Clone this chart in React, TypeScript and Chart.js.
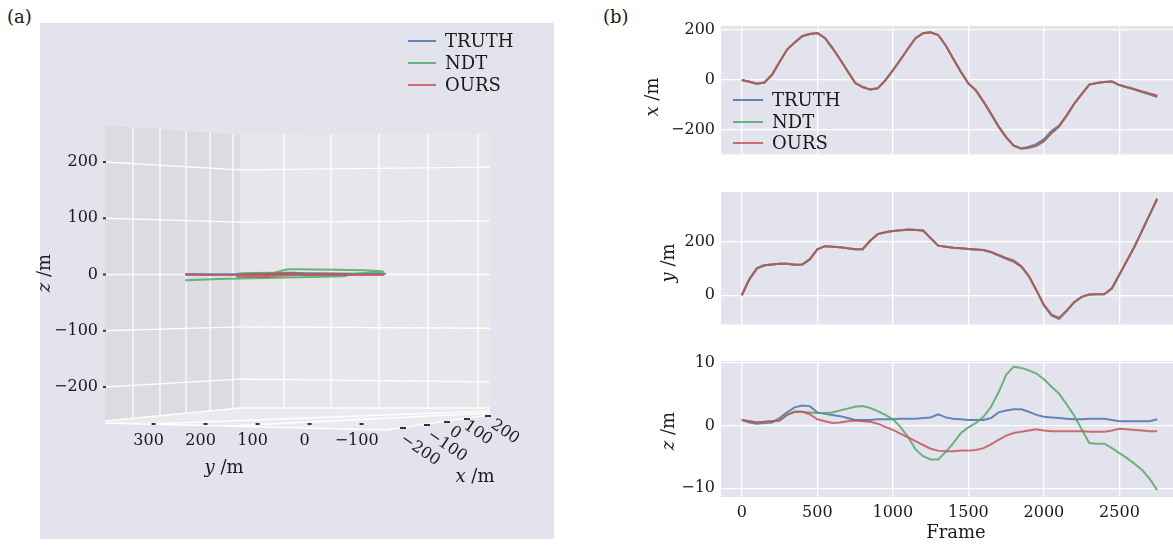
import React, { useEffect, useRef } from 'react';
import { Chart, registerables } from 'chart.js';

Chart.register(...registerables);

// ---------------- data ----------------
const FRAMES = [0, 50, 100, 150, 200, 250, 300, 350, 400, 450, 500, 550, 600, 650, 700, 750, 800, 850, 900, 950,
  1000, 1050, 1100, 1150, 1200, 1250, 1300, 1350, 1400, 1450, 1500, 1550, 1600, 1650, 1700, 1750, 1800, 1850, 1900, 1950,
  2000, 2050, 2100, 2150, 2200, 2250, 2300, 2350, 2400, 2450, 2500, 2550, 2600, 2650, 2700, 2750];

const SERIES_NAMES = ['TRUTH', 'NDT', 'OURS'];

const X_TRUTH = [0, -7, -15, -10, 21, 72, 122, 150, 175, 184,
  188, 168, 128, 83, 36, -11, -28, -38, -33, -1,
  39, 81, 125, 167, 187, 191, 180, 138, 85, 33,
  -14, -41, -86, -135, -186, -228, -262, -273, -266, -256,
  -236, -204, -182, -142, -95, -56, -18, -12, -8, -6,
  -20, -29, -38, -48, -58, -68];
const X_NDT = [0, -7, -15, -10, 21, 72, 122, 150, 175, 184,
  188, 168, 128, 83, 36, -11, -28, -38, -33, -1,
  39, 81, 125, 167, 187, 191, 180, 138, 85, 33,
  -14, -41, -86, -135, -186, -228, -262, -274, -270, -263,
  -244, -212, -186, -142, -95, -56, -18, -12, -8, -6,
  -20, -29, -37, -46, -55, -63];
const X_OURS = [0, -7, -15, -10, 21, 72, 122, 150, 175, 184,
  188, 168, 128, 83, 36, -11, -28, -38, -33, -1,
  39, 81, 125, 167, 187, 191, 180, 138, 85, 33,
  -14, -41, -86, -135, -186, -228, -262, -273, -270, -263,
  -244, -212, -186, -142, -95, -56, -18, -12, -8, -6,
  -20, -29, -37, -46, -54, -63];

const Y_TRUTH = [0, 59, 100, 111, 114, 117, 117, 113, 114, 133,
  170, 182, 180, 178, 174, 171, 171, 202, 227, 234,
  238, 241, 244, 243, 240, 212, 184, 180, 176, 174,
  172, 170, 167, 159, 147, 135, 124, 106, 71, 19,
  -38, -75, -88, -59, -26, -6, 3, 4, 4, 26,
  77, 129, 181, 240, 299, 358];
const Y_NDT = [0, 59, 100, 111, 114, 117, 117, 113, 114, 133,
  170, 182, 180, 178, 174, 171, 171, 202, 227, 234,
  238, 241, 243, 242, 240, 212, 184, 180, 176, 174,
  172, 170, 168, 161, 150, 138, 128, 108, 71, 19,
  -36, -72, -84, -57, -26, -6, 3, 4, 4, 26,
  77, 129, 181, 240, 299, 358];
const Y_OURS = [0, 59, 100, 111, 114, 117, 117, 113, 114, 133,
  170, 182, 180, 178, 174, 171, 171, 202, 227, 234,
  238, 241, 243, 242, 240, 212, 184, 180, 176, 174,
  172, 170, 168, 161, 150, 138, 128, 108, 71, 19,
  -36, -72, -84, -57, -26, -6, 3, 4, 4, 26,
  77, 129, 181, 240, 299, 358];

const Z_TRUTH = [0.9, 0.5, 0.3, 0.4, 0.5, 1.2, 2.1, 2.9, 3.2, 3.1,
  2.1, 1.9, 1.7, 1.5, 1.2, 0.9, 0.9, 0.9, 1.0, 1.0,
  1.0, 1.1, 1.1, 1.1, 1.2, 1.3, 1.8, 1.3, 1.1, 1.0,
  0.9, 0.9, 0.9, 1.2, 2.1, 2.4, 2.6, 2.6, 2.2, 1.7,
  1.4, 1.3, 1.2, 1.1, 1.0, 1.0, 1.1, 1.1, 1.1, 0.9,
  0.7, 0.7, 0.7, 0.7, 0.7, 1.0];
const Z_NDT = [0.9, 0.7, 0.5, 0.6, 0.7, 0.8, 1.7, 2.2, 2.2, 2.1,
  2.0, 2.0, 2.1, 2.4, 2.7, 3.0, 3.1, 2.8, 2.3, 1.7,
  1.0, -0.2, -1.8, -3.8, -4.9, -5.4, -5.4, -4.2, -2.8, -1.2,
  -0.3, 0.4, 1.4, 3.0, 5.3, 8.1, 9.4, 9.2, 8.8, 8.3,
  7.4, 6.2, 5.1, 3.4, 1.6, -0.6, -2.8, -2.9, -2.9, -3.6,
  -4.4, -5.2, -6.1, -7.1, -8.5, -10.3];
const Z_OURS = [0.9, 0.7, 0.5, 0.6, 0.7, 0.8, 1.7, 2.2, 2.2, 1.8,
  1.0, 0.7, 0.4, 0.5, 0.7, 0.8, 0.7, 0.6, 0.3, -0.2,
  -0.7, -1.3, -1.9, -2.5, -3.1, -3.7, -4.0, -4.1, -4.1, -4.0,
  -4.0, -3.9, -3.6, -3.0, -2.3, -1.6, -1.2, -1.0, -0.8, -0.6,
  -0.8, -0.9, -0.9, -0.9, -0.9, -0.9, -1.0, -1.0, -1.0, -0.8,
  -0.5, -0.6, -0.7, -0.8, -0.9, -0.9];

const FRAME_TICKS = [0, 500, 1000, 1500, 2000, 2500];
const X_TICKS = [-200, 0, 200];
const Y_TICKS = [0, 200];
const Z_TICKS = [-10, 0, 10];
const A_Z_TICKS = [-200, -100, 0, 100, 200];
const A_Y_TICKS = [300, 200, 100, 0, -100];
const A_X_TICKS = [-200, -100, 0, 100, 200];

// ---------------- styles ----------------
const FONT = "'DejaVu Serif', 'Liberation Serif', serif";
const TEXT = '#1a1a1a';
const SERIES_COLORS = ['rgba(76,114,176,0.85)', 'rgba(85,168,104,0.85)', 'rgba(196,78,82,0.8)'];
const PLOT_BG = '#e3e3ee';
const PANEL_BG = '#e3e3ee';
const LEFT_PANE = '#dbdbe0';
const BACK_PANE = '#e7e7eb';
const FLOOR = '#ebebef';

Chart.defaults.font.family = FONT;
Chart.defaults.color = TEXT;

type Box = { left: number; top: number; width: number; height: number };

const fmt = (v: number) => (v < 0 ? '\u2212' + Math.abs(v) : String(v));

function mathLabel(ctx: CanvasRenderingContext2D, ital: string, rest: string, x: number, y: number, rot: number, size = 18) {
  ctx.save();
  ctx.translate(x, y);
  ctx.rotate(rot);
  const fi = `italic ${size}px ${FONT}`;
  const fu = `${size}px ${FONT}`;
  ctx.font = fi;
  const w1 = ctx.measureText(ital).width;
  ctx.font = fu;
  const w2 = ctx.measureText(rest).width;
  const start = -(w1 + w2) / 2;
  ctx.textBaseline = 'middle';
  ctx.textAlign = 'left';
  ctx.fillStyle = TEXT;
  ctx.font = fi;
  ctx.fillText(ital, start, 0);
  ctx.font = fu;
  ctx.fillText(rest, start + w1, 0);
  ctx.restore();
}

function drawLegend(ctx: CanvasRenderingContext2D, x0: number, x1: number, tx: number, ys: number[]) {
  SERIES_NAMES.forEach((n, i) => {
    ctx.strokeStyle = SERIES_COLORS[i];
    ctx.lineWidth = 2;
    ctx.beginPath();
    ctx.moveTo(x0, ys[i]);
    ctx.lineTo(x1, ys[i]);
    ctx.stroke();
    ctx.fillStyle = TEXT;
    ctx.font = `18px ${FONT}`;
    ctx.textBaseline = 'middle';
    ctx.textAlign = 'left';
    ctx.fillText(n, tx, ys[i] + 1);
  });
}

function line(ctx: CanvasRenderingContext2D, x0: number, y0: number, x1: number, y1: number) {
  ctx.beginPath();
  ctx.moveTo(x0, y0);
  ctx.lineTo(x1, y1);
  ctx.stroke();
}

function poly(ctx: CanvasRenderingContext2D, pts: number[][], color: string) {
  ctx.fillStyle = color;
  ctx.beginPath();
  pts.forEach((p, i) => (i ? ctx.lineTo(p[0], p[1]) : ctx.moveTo(p[0], p[1])));
  ctx.closePath();
  ctx.fill();
}

function pagePlugin(id: string, box: Box, before: any, after: any) {
  return {
    id,
    beforeDraw(chart: any) {
      if (!before) return;
      const ctx = chart.ctx;
      ctx.save();
      ctx.translate(-box.left, -box.top);
      before(ctx, chart);
      ctx.restore();
    },
    afterDraw(chart: any) {
      if (!after) return;
      const ctx = chart.ctx;
      ctx.save();
      ctx.translate(-box.left, -box.top);
      after(ctx, chart);
      ctx.restore();
    },
  };
}

function lineSets(values: number[][], xs?: number[][], xAxisID = 'x', yAxisID = 'y') {
  return SERIES_NAMES.map((name, i) => ({
    label: name,
    data: values[i].map((v, k) => ({ x: xs ? xs[i][k] : FRAMES[k], y: v })),
    borderColor: SERIES_COLORS[i],
    backgroundColor: SERIES_COLORS[i],
    borderWidth: 2,
    pointRadius: 0,
    tension: 0,
    fill: false,
    order: 2 - i,
    xAxisID,
    yAxisID,
  }));
}

// ---------------- left (a) panel ----------------
const LEFT_BOX: Box = { left: 0, top: 0, width: 560, height: 549 };

function leftConfig(): any {
  const box = LEFT_BOX;
  const plugin = pagePlugin('leftDecor', box,
    (ctx: CanvasRenderingContext2D, chart: any) => {
      const z = chart.scales.z;
      ctx.fillStyle = PANEL_BG;
      ctx.fillRect(40, 23, 514, 516);
      poly(ctx, [[105, 125], [240, 135], [240, 408], [105, 421]], LEFT_PANE);
      poly(ctx, [[240, 134], [490, 133], [490, 408], [240, 408]], BACK_PANE);
      poly(ctx, [[105, 421], [240, 408], [490, 408], [490, 415], [385, 430], [105, 424]], FLOOR);
      ctx.strokeStyle = 'rgba(255,255,255,0.95)';
      ctx.lineWidth = 1.3;
      const zero = z.getPixelForValue(0);
      A_Z_TICKS.forEach((v) => {
        const yf = z.getPixelForValue(v);
        const yb = zero + (yf - zero) * 0.93;
        const yr = zero + (yf - zero) * 0.955;
        line(ctx, 105, yf, 240, yb);
        line(ctx, 240, yb, 490, yr);
      });
      [133, 160, 186, 210, 233].forEach((x) => {
        const t = 125 + ((x - 105) * 10) / 135;
        const b = 421 - ((x - 105) * 13) / 135;
        line(ctx, x, t, x, b);
      });
      [284, 331, 379, 428, 478].forEach((x) => line(ctx, x, 134, x, 408));
      line(ctx, 105, 423, 385, 430);
      line(ctx, 385, 430, 490, 415);
      line(ctx, 105, 421, 240, 408);
      line(ctx, 240, 408, 490, 408);
      line(ctx, 150, 424, 490, 411);
      line(ctx, 230, 426, 490, 413);
    },
    (ctx: CanvasRenderingContext2D, chart: any) => {
      const z = chart.scales.z;
      const xa = chart.scales.xa;
      ctx.fillStyle = '#333';
      A_Z_TICKS.forEach((v) => ctx.fillRect(103, z.getPixelForValue(v) - 1, 3, 2));
      A_Y_TICKS.forEach((v) => ctx.fillRect(xa.getPixelForValue(v) + 3, 423, 4, 2));
      const dash = [[403, 428], [427, 425], [447, 422], [467, 419], [488, 416]];
      dash.forEach((d) => ctx.fillRect(d[0] - 3, d[1] - 1, 6, 2));
      const lab = [[420, 450], [447, 446], [455, 433], [478, 433], [505, 432]];
      ctx.fillStyle = TEXT;
      ctx.font = `16px ${FONT}`;
      ctx.textAlign = 'center';
      ctx.textBaseline = 'middle';
      A_X_TICKS.forEach((v, i) => {
        ctx.save();
        ctx.translate(lab[i][0], lab[i][1]);
        ctx.rotate(0.6);
        ctx.fillText(fmt(v), 0, 0);
        ctx.restore();
      });
      mathLabel(ctx, 'z', ' /m', 45, 273, -Math.PI / 2);
      mathLabel(ctx, 'y', ' /m', 224, 468, 0);
      mathLabel(ctx, 'x', ' /m', 475, 477, 0);
      drawLegend(ctx, 408, 436, 445, [41, 63, 85]);
    });

  return {
    type: 'line',
    data: { datasets: lineSets([Z_TRUTH, Z_NDT, Z_OURS], [Y_TRUTH, Y_NDT, Y_OURS], 'xd', 'z') },
    options: {
      responsive: false,
      animation: false,
      events: [],
      layout: { padding: { left: 0, right: 70, top: 125, bottom: 0 } },
      plugins: { legend: { display: false }, tooltip: { enabled: false } },
      scales: {
        xd: { type: 'linear', display: false, min: -319, max: 536, reverse: true },
        xa: {
          type: 'linear', position: 'bottom', min: -356.5, max: 383.8, reverse: true,
          grid: { display: false, drawTicks: false }, border: { display: false },
          ticks: { padding: 10, autoSkip: false, maxRotation: 0, color: TEXT, font: { size: 16 }, callback: (v: number) => fmt(v) },
          afterBuildTicks: (s: any) => { s.ticks = A_Y_TICKS.map((v) => ({ value: v })); },
          afterFit: (s: any) => { s.height = 128; },
        },
        z: {
          type: 'linear', position: 'left', min: -260.4, max: 265.8,
          grid: { display: false, drawTicks: false }, border: { display: false },
          ticks: { padding: 7, autoSkip: false, color: TEXT, font: { size: 16 }, callback: (v: number) => fmt(v) },
          afterBuildTicks: (s: any) => { s.ticks = A_Z_TICKS.map((v) => ({ value: v })); },
          afterFit: (s: any) => { s.width = 105; },
        },
      },
    },
    plugins: [plugin],
  };
}

// ---------------- right (b) panels ----------------
const PLOT_LEFT = 721;
const PLOT_RIGHT = 1178;
const FRAME_MIN = -137.5;
const FRAME_MAX = 2887.5;

function subConfig(box: Box, padTop: number, padBottom: number, xHeight: number, values: number[][],
  yMin: number, yMax: number, yTicks: number[], showFrame: boolean, after: any): any {
  const plugin = pagePlugin('sub' + box.top, box,
    (ctx: CanvasRenderingContext2D, chart: any) => {
      const ca = chart.chartArea;
      ctx.fillStyle = PLOT_BG;
      ctx.fillRect(ca.left + box.left, ca.top + box.top, ca.right - ca.left, ca.bottom - ca.top);
    }, after);
  const grid = { color: '#ffffff', lineWidth: 1.3, drawTicks: false };
  return {
    type: 'line',
    data: { datasets: lineSets(values) },
    options: {
      responsive: false,
      animation: false,
      events: [],
      layout: { padding: { left: 0, right: box.left + box.width - PLOT_RIGHT, top: padTop, bottom: padBottom } },
      plugins: { legend: { display: false }, tooltip: { enabled: false } },
      scales: {
        x: {
          type: 'linear', min: FRAME_MIN, max: FRAME_MAX, grid, border: { display: false },
          ticks: { display: showFrame, padding: 6, autoSkip: false, maxRotation: 0, color: TEXT, font: { size: 16 }, callback: (v: number) => fmt(v) },
          afterBuildTicks: (s: any) => { s.ticks = FRAME_TICKS.map((v) => ({ value: v })); },
          afterFit: (s: any) => { s.height = xHeight; },
        },
        y: {
          type: 'linear', min: yMin, max: yMax, grid, border: { display: false },
          ticks: { padding: 6, autoSkip: false, color: TEXT, font: { size: 16 }, callback: (v: number) => fmt(v) },
          afterBuildTicks: (s: any) => { s.ticks = yTicks.map((v) => ({ value: v })); },
          afterFit: (s: any) => { s.width = PLOT_LEFT - box.left; },
        },
      },
    },
    plugins: [plugin],
  };
}

const TOP_BOX: Box = { left: 643, top: 0, width: 540, height: 170 };
const MID_BOX: Box = { left: 643, top: 170, width: 540, height: 170 };
const BOT_BOX: Box = { left: 643, top: 340, width: 540, height: 209 };

const topConfig = () => subConfig(TOP_BOX, 26, 7, 0, [X_TRUTH, X_NDT, X_OURS], -297, 216, X_TICKS, false,
  (ctx: CanvasRenderingContext2D) => {
    mathLabel(ctx, 'x', ' /m', 653, 97, -Math.PI / 2);
    drawLegend(ctx, 733, 763, 772, [100, 122, 143]);
  });
const midConfig = () => subConfig(MID_BOX, 22, 9, 0, [Y_TRUTH, Y_NDT, Y_OURS], -108, 383, Y_TICKS, false,
  (ctx: CanvasRenderingContext2D) => {
    mathLabel(ctx, 'y', ' /m', 669, 263, -Math.PI / 2);
  });
const botConfig = () => subConfig(BOT_BOX, 21, 0, 52, [Z_TRUTH, Z_NDT, Z_OURS], -11.4, 10.3, Z_TICKS, true,
  (ctx: CanvasRenderingContext2D) => {
    mathLabel(ctx, 'z', ' /m', 669, 431, -Math.PI / 2);
    ctx.fillStyle = TEXT;
    ctx.font = `18px ${FONT}`;
    ctx.textAlign = 'center';
    ctx.textBaseline = 'middle';
    ctx.fillText('Frame', 956, 533);
  });

function ChartCanvas({ box, make }: { box: Box; make: () => any }) {
  const ref = useRef<HTMLCanvasElement>(null);
  useEffect(() => {
    const chart = new Chart(ref.current as HTMLCanvasElement, make());
    return () => chart.destroy();
  }, []);
  return (
    <canvas
      ref={ref}
      width={box.width}
      height={box.height}
      style={{ position: 'absolute', left: box.left, top: box.top, width: box.width, height: box.height }}
    />
  );
}

export default function App() {
  const label: React.CSSProperties = { position: 'absolute', top: 6, fontSize: 18, lineHeight: '22px', color: TEXT, fontFamily: FONT };
  return (
    <div style={{ position: 'absolute', left: 0, top: 0, width: 1173, height: 549, overflow: 'hidden', background: '#ffffff' }}>
      <div style={{ ...label, left: 7 }}>(a)</div>
      <div style={{ ...label, left: 603 }}>(b)</div>
      <ChartCanvas box={LEFT_BOX} make={leftConfig} />
      <ChartCanvas box={TOP_BOX} make={topConfig} />
      <ChartCanvas box={MID_BOX} make={midConfig} />
      <ChartCanvas box={BOT_BOX} make={botConfig} />
    </div>
  );
}
